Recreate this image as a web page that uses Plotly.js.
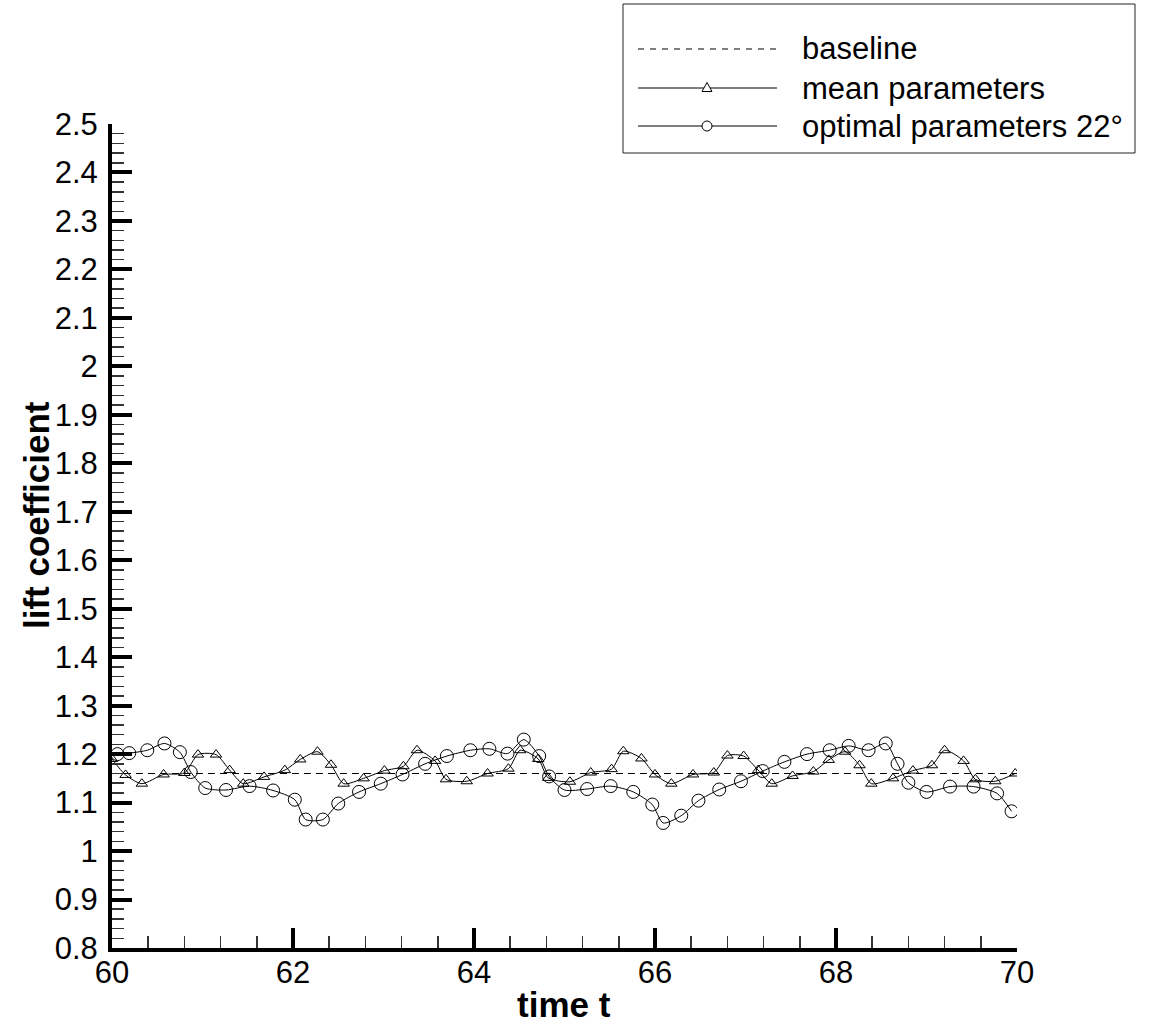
<!DOCTYPE html>
<html>
<head>
<meta charset="utf-8">
<script src="https://cdn.plot.ly/plotly-3.0.1.min.js"></script>
<style>html,body{margin:0;padding:0;background:#fff;}#chart{width:1160px;height:1030px;}</style>
</head>
<body>
<div id="chart"></div>
<script>
// ---- data ----
var baselineTime = [60, 70];
var baselineLift = [1.16, 1.16];

var meanTime = [60.00, 60.15, 60.33, 60.57, 60.80, 60.95, 61.15, 61.30, 61.45, 61.68,
                61.91, 62.08, 62.27, 62.42, 62.56, 62.78, 63.01, 63.22, 63.37, 63.57,
                63.69, 63.92, 64.15, 64.38, 64.51, 64.71, 64.82, 65.06, 65.29, 65.52,
                65.65, 65.85, 66.00, 66.18, 66.42, 66.65, 66.80, 66.98, 67.14, 67.29,
                67.52, 67.75, 67.92, 68.10, 68.26, 68.39, 68.63, 68.85, 69.06, 69.20,
                69.41, 69.54, 69.76, 69.98];
var meanLift = [1.190, 1.157, 1.139, 1.158, 1.161, 1.199, 1.199, 1.167, 1.139, 1.153,
                1.167, 1.189, 1.205, 1.178, 1.139, 1.150, 1.166, 1.175, 1.208, 1.186,
                1.148, 1.144, 1.160, 1.170, 1.208, 1.190, 1.151, 1.143, 1.162, 1.169,
                1.206, 1.191, 1.158, 1.139, 1.158, 1.162, 1.197, 1.196, 1.167, 1.139,
                1.155, 1.164, 1.188, 1.205, 1.177, 1.139, 1.150, 1.166, 1.177, 1.208,
                1.186, 1.148, 1.144, 1.160];

var optTime = [60.06, 60.19, 60.39, 60.58, 60.75, 60.87, 61.03, 61.26, 61.52, 61.78,
               62.02, 62.14, 62.33, 62.50, 62.73, 62.97, 63.21, 63.46, 63.70, 63.96,
               64.17, 64.37, 64.55, 64.72, 64.83, 65.00, 65.25, 65.51, 65.76, 65.97,
               66.09, 66.29, 66.48, 66.71, 66.95, 67.19, 67.43, 67.68, 67.93, 68.14,
               68.36, 68.55, 68.68, 68.80, 69.00, 69.26, 69.52, 69.78, 69.94];
var optLift = [1.200, 1.202, 1.208, 1.222, 1.204, 1.163, 1.130, 1.126, 1.134, 1.125,
               1.106, 1.065, 1.065, 1.098, 1.122, 1.139, 1.158, 1.180, 1.196, 1.208,
               1.211, 1.201, 1.230, 1.196, 1.154, 1.126, 1.128, 1.134, 1.122, 1.096,
               1.058, 1.073, 1.104, 1.127, 1.144, 1.165, 1.184, 1.200, 1.208, 1.217,
               1.208, 1.222, 1.180, 1.141, 1.122, 1.133, 1.133, 1.119, 1.082];

var seriesNames = ['baseline', 'mean parameters', 'optimal parameters 22°'];
var xTitle = 'time t';
var yTitle = 'lift coefficient';

// ---- layout helpers (pixel -> paper) ----
var W = 1160, H = 1030;
var M = {l: 112, r: 143, t: 124, b: 82};
var PW = W - M.l - M.r, PH = H - M.t - M.b;
function px(x) { return (x - M.l) / PW; }
function py(y) { return (H - M.b - y) / PH; }

var FONT = 'Liberation Sans, Arial, Helvetica, sans-serif';

var traces = [
  {x: baselineTime, y: baselineLift, name: seriesNames[0], mode: 'lines',
   line: {color: '#000', width: 1, dash: '7px,5px'}},
  {x: meanTime, y: meanLift, name: seriesNames[1], mode: 'lines+markers',
   line: {color: '#000', width: 1, shape: 'spline', smoothing: 0.7},
   marker: {symbol: 'triangle-up-open', size: 10, color: '#000', line: {color: '#000', width: 1}}},
  {x: optTime, y: optLift, name: seriesNames[2], mode: 'lines+markers',
   line: {color: '#000', width: 1, shape: 'spline', smoothing: 0.7},
   marker: {symbol: 'circle-open', size: 13, color: '#000', line: {color: '#000', width: 1}}}
];

function axisCommon() {
  return {
    showgrid: false, zeroline: false,
    showline: true, linecolor: '#000', linewidth: 4, mirror: false,
    ticks: 'inside', ticklen: 20, tickwidth: 4, tickcolor: '#000',
    tickfont: {family: FONT, size: 31, color: '#000'},
    fixedrange: true
  };
}
var xaxis = axisCommon();
xaxis.range = [60, 70];
xaxis.tick0 = 60; xaxis.dtick = 2;
xaxis.minor = {ticks: 'inside', dtick: 0.4, tick0: 60, ticklen: 12, tickwidth: 1.5, tickcolor: '#333', showgrid: false};
xaxis.ticklabelstandoff = -6;

var yaxis = axisCommon();
yaxis.range = [0.8, 2.5];
yaxis.tick0 = 0.8; yaxis.dtick = 0.1;
yaxis.minor = {ticks: 'inside', dtick: 0.02, tick0: 0.8, ticklen: 12, tickwidth: 1.5, tickcolor: '#333', showgrid: false};
yaxis.ticklabelstandoff = 4;

var legendRows = [49, 88, 126];
var lx0 = 638, lx1 = 777, lxm = 707;

var shapes = [
  {type: 'rect', xref: 'paper', yref: 'paper', x0: px(623), x1: px(1135), y0: py(153), y1: py(4),
   line: {color: '#222', width: 1}, fillcolor: 'rgba(0,0,0,0)'},
  {type: 'line', xref: 'paper', yref: 'paper', x0: px(lx0), x1: px(lx1), y0: py(legendRows[0]), y1: py(legendRows[0]),
   line: {color: '#000', width: 1, dash: '6px,6px'}},
  {type: 'line', xref: 'paper', yref: 'paper', x0: px(lx0), x1: px(lx1), y0: py(legendRows[1]), y1: py(legendRows[1]),
   line: {color: '#000', width: 1}},
  {type: 'line', xref: 'paper', yref: 'paper', x0: px(lx0), x1: px(lx1), y0: py(legendRows[2]), y1: py(legendRows[2]),
   line: {color: '#000', width: 1}},
  // legend triangle
  {type: 'path', xref: 'paper', yref: 'paper',
   path: 'M ' + px(lxm - 5) + ' ' + py(legendRows[1] + 3.5) + ' L ' + px(lxm + 5) + ' ' + py(legendRows[1] + 3.5) +
         ' L ' + px(lxm) + ' ' + py(legendRows[1] - 5.5) + ' Z',
   line: {color: '#000', width: 1}, fillcolor: '#fff'},
  // legend circle
  {type: 'circle', xref: 'paper', yref: 'paper', x0: px(lxm - 5), x1: px(lxm + 5), y0: py(legendRows[2] + 5), y1: py(legendRows[2] - 5),
   line: {color: '#000', width: 1}, fillcolor: '#fff'}
];

var annotations = [
  {text: xTitle, xref: 'paper', yref: 'paper', x: px(564), y: py(1005), xanchor: 'center', yanchor: 'middle',
   showarrow: false, font: {family: FONT, size: 35, color: '#000', weight: 'bold'}},
  {text: yTitle, xref: 'paper', yref: 'paper', x: px(36), y: py(515), xanchor: 'center', yanchor: 'middle',
   textangle: -90, showarrow: false, font: {family: FONT, size: 35, color: '#000', weight: 'bold'}}
];
for (var i = 0; i < seriesNames.length; i++) {
  annotations.push({text: seriesNames[i], xref: 'paper', yref: 'paper', x: px(800), y: py(legendRows[i]),
    xanchor: 'left', yanchor: 'middle', showarrow: false, font: {family: FONT, size: 31, color: '#000'}});
}

var layout = {
  width: W, height: H,
  margin: M,
  paper_bgcolor: '#fff', plot_bgcolor: '#fff',
  showlegend: false,
  font: {family: FONT, color: '#000'},
  xaxis: xaxis, yaxis: yaxis,
  shapes: shapes, annotations: annotations
};

Plotly.newPlot('chart', traces, layout, {staticPlot: true, displayModeBar: false});
</script>
</body>
</html>
